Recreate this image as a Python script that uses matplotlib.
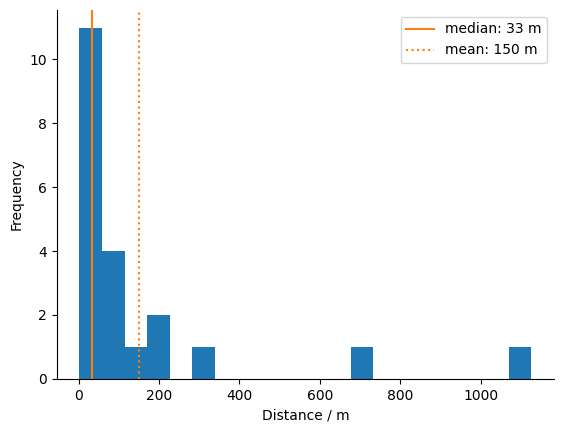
import numpy as np
import matplotlib
matplotlib.use("Agg")
import matplotlib.pyplot as plt

# histogram of distances (20 bins), counts
dist_min = 2.0
dist_max = 1126.0
n_bins = 20
counts = [11, 4, 1, 2, 0, 1, 0, 0, 0, 0, 0, 0, 1, 0, 0, 0, 0, 0, 0, 1]
median_m = 33
mean_m = 150


def main():
    edges = np.linspace(dist_min, dist_max, n_bins + 1)
    fig, ax = plt.subplots(figsize=(5.63, 4.33), dpi=100)
    ax.hist(edges[:-1], bins=edges, weights=counts, color="C0")

    ax.axvline(median_m, color="C1", linestyle="-", label=f"median: {median_m} m")
    ax.axvline(mean_m, color="C1", linestyle=":", label=f"mean: {mean_m} m")

    ax.set_xlabel("Distance / m")
    ax.set_ylabel("Frequency")
    ax.legend(loc="upper right")

    ax.spines["top"].set_visible(False)
    ax.spines["right"].set_visible(False)

    plt.subplots_adjust(left=0.101, right=0.984, bottom=0.125, top=0.977)
    fig.savefig("out.png")


if __name__ == "__main__":
    main()
